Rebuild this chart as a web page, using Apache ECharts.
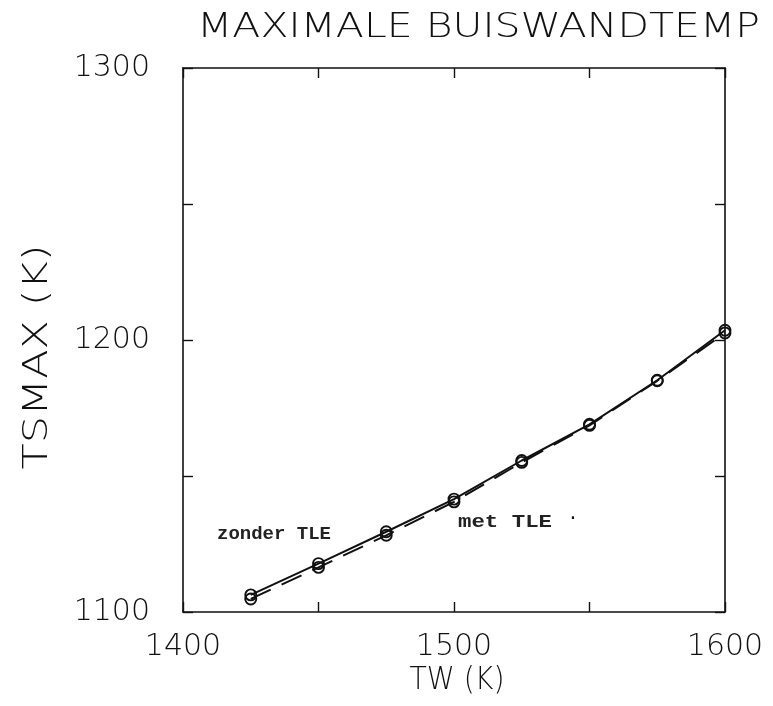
<!DOCTYPE html>
<html>
<head>
<meta charset="utf-8">
<script src="https://cdn.jsdelivr.net/npm/echarts@6/dist/echarts.min.js"></script>
<style>
  html, body { margin: 0; padding: 0; background: #ffffff; }
  #chart { width: 773px; height: 706px; }
</style>
</head>
<body>
<div id="chart"></div>
<script>
// Wall temperature TW (K) on the x axis
const tw = [1425, 1450, 1475, 1500, 1525, 1550, 1575, 1600];
// Maximum tube wall temperature TSMAX (K), without and with TLE
const tsmaxZonderTLE = [1106.3, 1117.8, 1129.5, 1141.5, 1155.7, 1169.0, 1185.2, 1203.6];
const tsmaxMetTLE    = [1104.8, 1116.4, 1128.2, 1140.5, 1155.0, 1168.6, 1185.0, 1202.6];
// Labelled tick values
const xTickLabels = [1400, 1500, 1600];
const yTickLabels = [1100, 1200, 1300];

const plotterFont = 'DejaVu Sans';
const plotterWeight = 200;
const typeFont = 'Liberation Mono';

const chart = echarts.init(document.getElementById('chart'), null, { renderer: 'canvas' });

// stretch text horizontally to a target width
const ctx = document.createElement('canvas').getContext('2d');
function widthOf(text, size, family, weight) {
  ctx.font = (weight || 'normal') + ' ' + size + 'px "' + family + '"';
  return ctx.measureText(text).width;
}

const titleText = 'MAXIMALE BUISWANDTEMP';
const titleSize = 33;
const titleScale = 563 / widthOf(titleText, titleSize, plotterFont, plotterWeight);
const xName = 'TW (K)';
const yName = 'TSMAX (K)';
const xNameSize = 32;
const yNameSize = 34;
const xNameScale = 95 / widthOf(xName, xNameSize, plotterFont, plotterWeight);
const yNameScale = 225 / widthOf(yName, yNameSize, plotterFont, plotterWeight);
const annSize = 19;
const metScale = 94 / widthOf('met TLE', annSize, typeFont, 'bold');

const frameLine = { show: true, lineStyle: { color: '#111', width: 1.6 } };
const innerTicks = { show: true, inside: true, length: 10, lineStyle: { color: '#111', width: 1.4 } };

function pairSeries(name, values, lineType) {
  return {
    name: name,
    type: 'line',
    data: tw.map((x, i) => [x, values[i]]),
    symbol: 'circle',
    symbolSize: 11,
    showSymbol: true,
    itemStyle: { color: 'rgba(255,255,255,0)', borderColor: '#111', borderWidth: 1.9 },
    lineStyle: { color: '#111', width: 2, type: lineType },
    animation: false,
    z: 3
  };
}

chart.setOption({
  backgroundColor: '#ffffff',
  animation: false,
  grid: { left: 183, right: 48, top: 68, bottom: 94, containLabel: false },
  xAxis: [{
    type: 'value', min: 1400, max: 1600, interval: 50,
    axisLine: frameLine, axisTick: innerTicks, splitLine: { show: false },
    axisLabel: {
      margin: 20, color: '#111', fontFamily: plotterFont, fontWeight: plotterWeight, fontSize: 30,
      formatter: v => xTickLabels.includes(v) ? String(v) : ''
    }
  }, {
    type: 'value', position: 'top', min: 1400, max: 1600, interval: 50,
    axisLine: frameLine, axisTick: innerTicks, splitLine: { show: false }, axisLabel: { show: false }
  }],
  yAxis: [{
    type: 'value', min: 1100, max: 1300, interval: 50,
    axisLine: frameLine, axisTick: innerTicks, splitLine: { show: false },
    axisLabel: {
      margin: 33, color: '#111', fontFamily: plotterFont, fontWeight: plotterWeight, fontSize: 30,
      formatter: v => yTickLabels.includes(v) ? String(v) : ''
    }
  }, {
    type: 'value', position: 'right', min: 1100, max: 1300, interval: 50,
    axisLine: frameLine, axisTick: innerTicks, splitLine: { show: false }, axisLabel: { show: false }
  }],
  series: [
    pairSeries('zonder TLE', tsmaxZonderTLE, 'solid'),
    pairSeries('met TLE', tsmaxMetTLE, [22, 12])
  ],
  graphic: [
    {
      type: 'text', x: 197, y: 28, scaleX: titleScale,
      style: { text: titleText, font: plotterWeight + ' ' + titleSize + 'px "' + plotterFont + '"',
               fill: '#111', verticalAlign: 'middle', align: 'left' }
    },
    {
      type: 'text', x: 457, y: 681, scaleX: xNameScale,
      style: { text: xName, font: plotterWeight + ' ' + xNameSize + 'px "' + plotterFont + '"',
               fill: '#111', verticalAlign: 'middle', align: 'center' }
    },
    {
      type: 'text', x: 38, y: 357, rotation: Math.PI / 2, scaleX: yNameScale,
      style: { text: yName, font: plotterWeight + ' ' + yNameSize + 'px "' + plotterFont + '"',
               fill: '#111', verticalAlign: 'middle', align: 'center' }
    },
    {
      type: 'text', x: 217, y: 534,
      style: { text: 'zonder TLE', font: 'bold ' + annSize + 'px "' + typeFont + '"',
               fill: '#222', verticalAlign: 'middle', align: 'left' }
    },
    {
      type: 'text', x: 458, y: 522, scaleX: metScale,
      style: { text: 'met TLE', font: 'bold ' + annSize + 'px "' + typeFont + '"',
               fill: '#222', verticalAlign: 'middle', align: 'left' }
    },
    {
      type: 'text', x: 573, y: 518,
      style: { text: '·', font: annSize + 'px "' + typeFont + '"',
               fill: '#111', verticalAlign: 'middle', align: 'center' }
    }
  ]
});
</script>
</body>
</html>
